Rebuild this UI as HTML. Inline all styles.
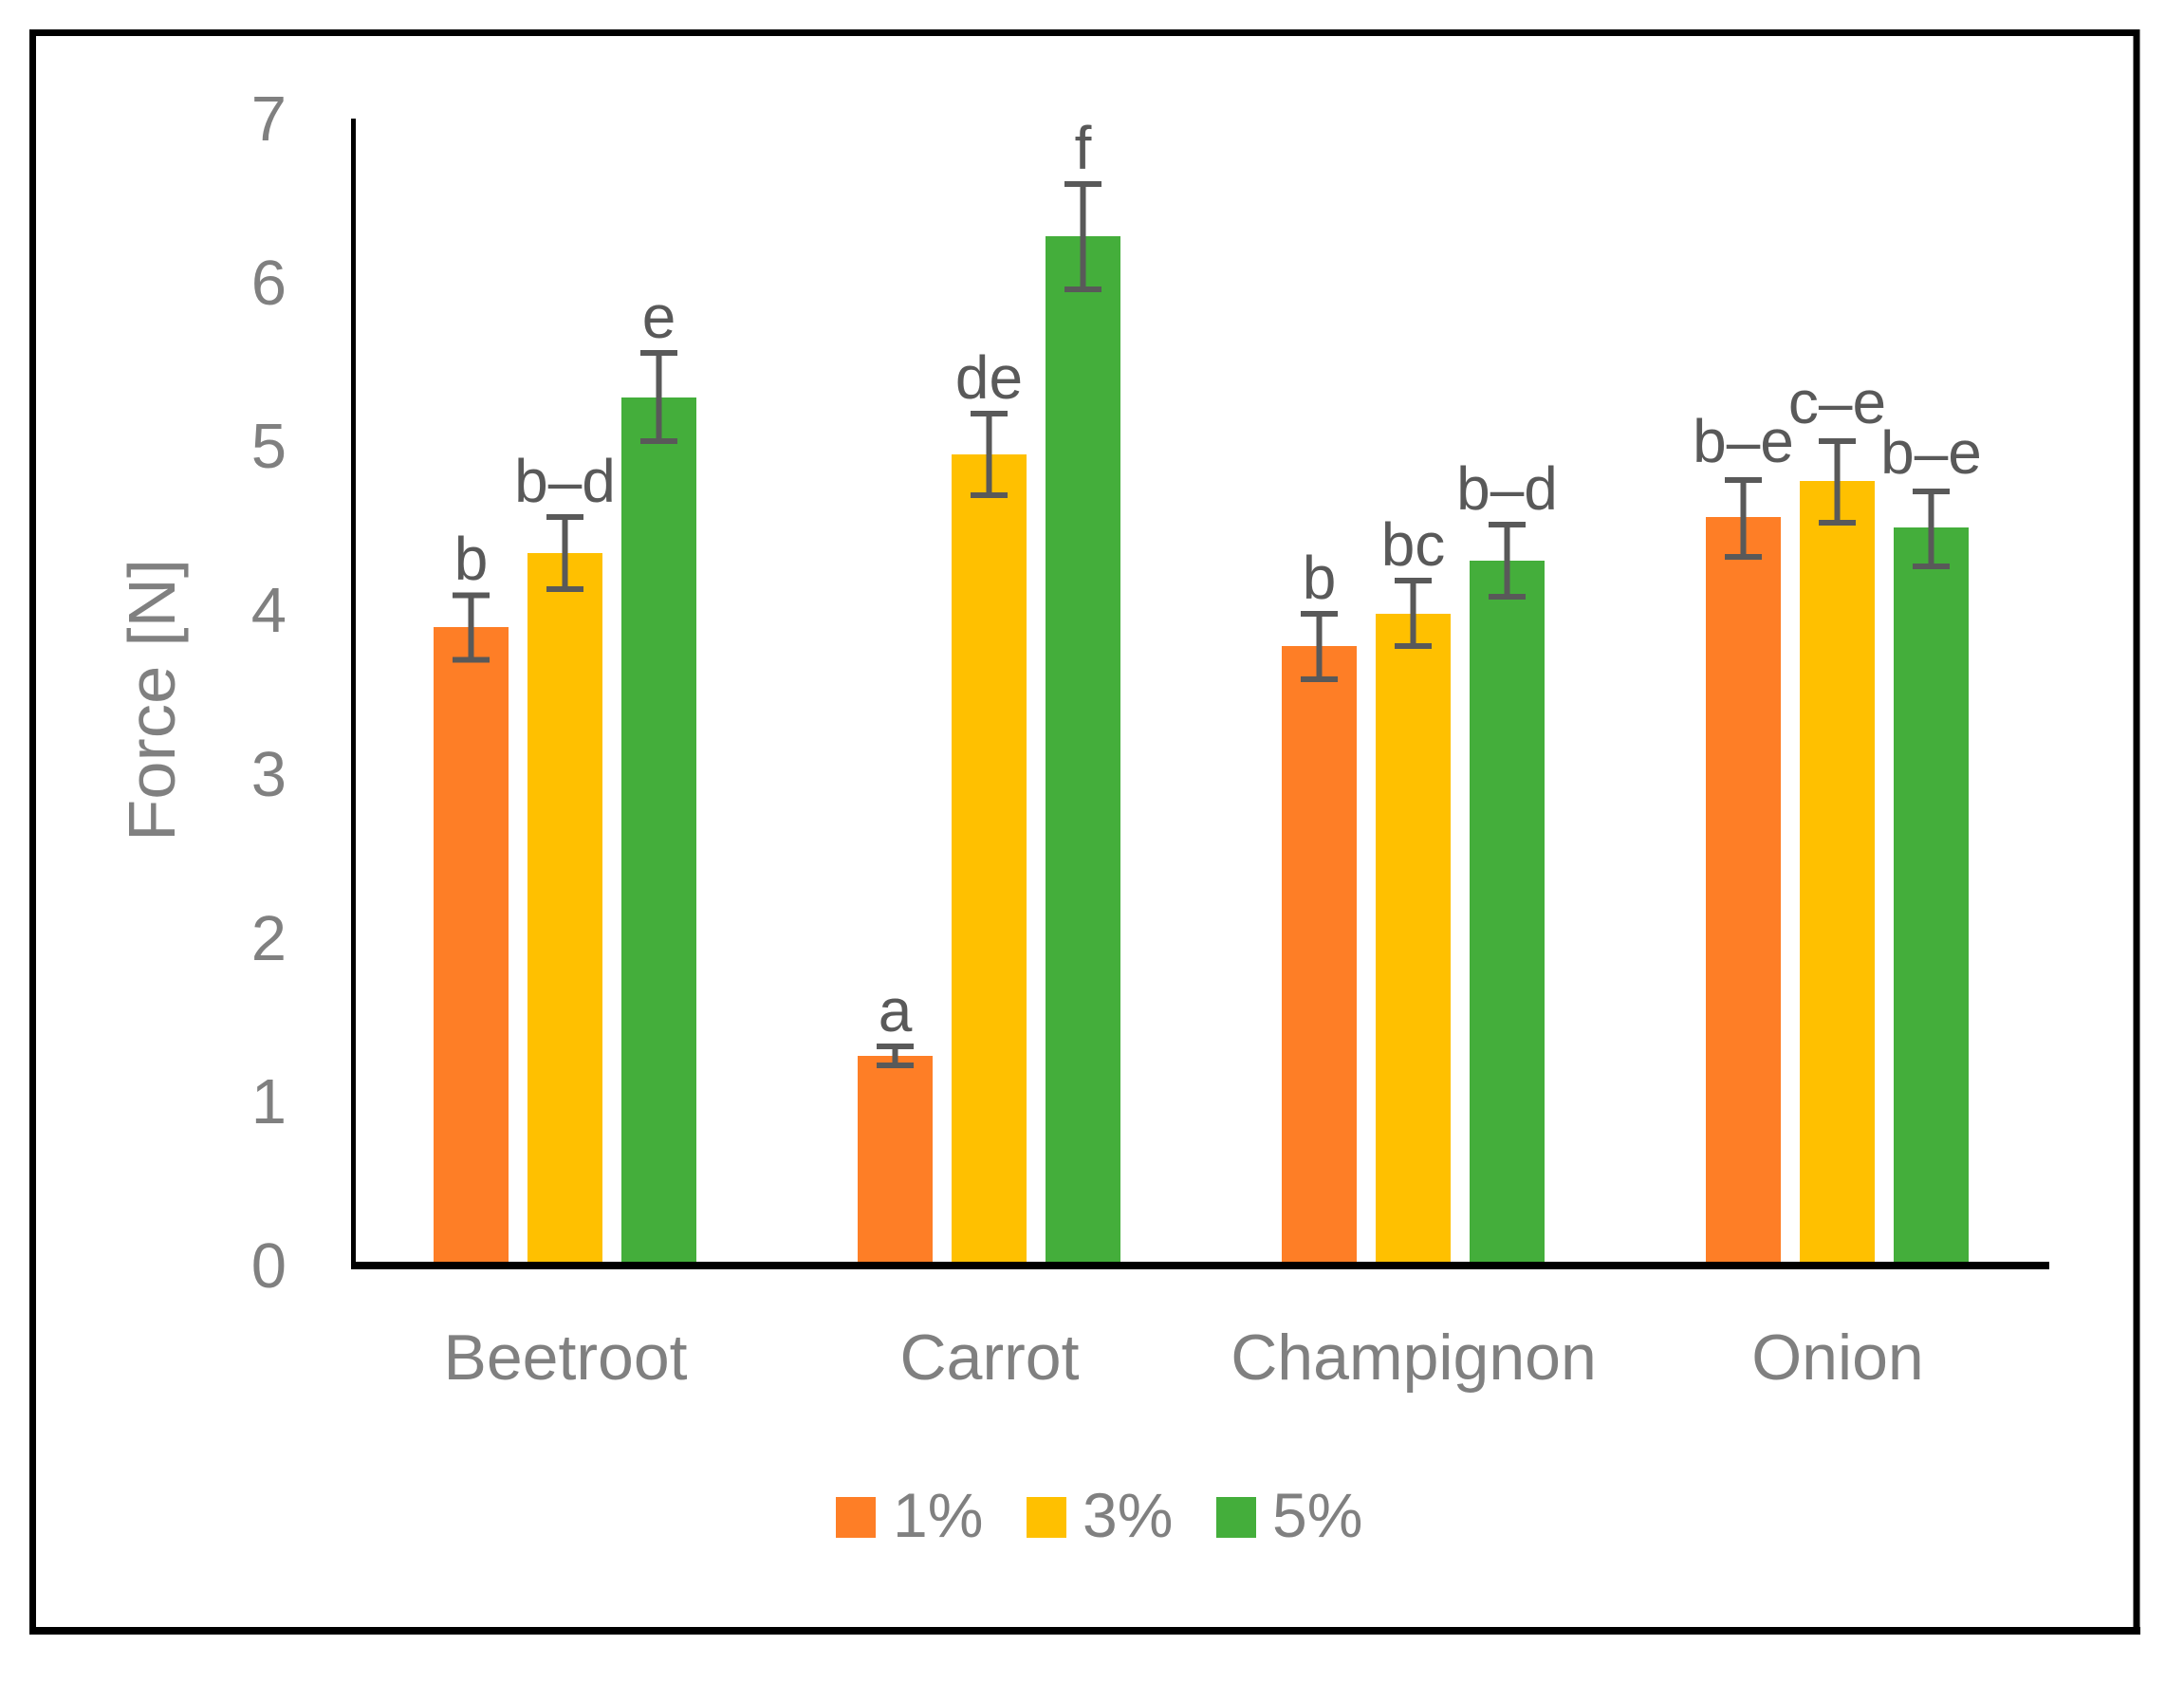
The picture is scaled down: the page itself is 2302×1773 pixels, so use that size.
<!DOCTYPE html>
<html><head><meta charset="utf-8"><style>html,body{margin:0;padding:0;background:#fff}svg{display:block}</style></head>
<body>
<svg width="2302" height="1773" viewBox="0 0 2302 1773" xmlns="http://www.w3.org/2000/svg" font-family="'Liberation Sans', sans-serif">
<rect x="0" y="0" width="2302" height="1773" fill="#fff"/>
<rect x="34.5" y="34.5" width="2217.5" height="1684" fill="none" stroke="#000" stroke-width="7"/>
<line x1="31" y1="1719" x2="2256" y2="1719" stroke="#000" stroke-width="8"/>
<g fill="#808080" font-size="67" text-anchor="end">
<text x="302" y="1357">0</text><text x="302" y="1184">1</text><text x="302" y="1012">2</text>
<text x="302" y="839">3</text><text x="302" y="666">4</text><text x="302" y="493">5</text>
<text x="302" y="321">6</text><text x="302" y="148">7</text>
</g>
<text transform="translate(184,738) rotate(-90)" fill="#808080" font-size="70" text-anchor="middle" textLength="298" lengthAdjust="spacingAndGlyphs">Force [N]</text>
<g>
<rect x="457" y="661" width="79" height="673" fill="#fe7e26"/>
<rect x="556" y="583" width="79" height="751" fill="#ffc000"/>
<rect x="655" y="419" width="79" height="915" fill="#44ae3b"/>
<rect x="904" y="1113" width="79" height="221" fill="#fe7e26"/>
<rect x="1003" y="479" width="79" height="855" fill="#ffc000"/>
<rect x="1102" y="249" width="79" height="1085" fill="#44ae3b"/>
<rect x="1351" y="681" width="79" height="653" fill="#fe7e26"/>
<rect x="1450" y="647" width="79" height="687" fill="#ffc000"/>
<rect x="1549" y="591" width="79" height="743" fill="#44ae3b"/>
<rect x="1798" y="545" width="79" height="789" fill="#fe7e26"/>
<rect x="1897" y="507" width="79" height="827" fill="#ffc000"/>
<rect x="1996" y="556" width="79" height="778" fill="#44ae3b"/>
</g>
<line x1="372.5" y1="125" x2="372.5" y2="1338" stroke="#000" stroke-width="5"/>
<line x1="370" y1="1334" x2="2160" y2="1334" stroke="#000" stroke-width="8"/>
<g stroke="#595959" stroke-width="6" fill="none">
<path d="M496.5 627.5V695.5M477 627.5H516M477 695.5H516"/>
<path d="M595.5 545V621M576 545H615M576 621H615"/>
<path d="M694.5 372V465M675 372H714M675 465H714"/>
<path d="M943.5 1103V1123M924 1103H963M924 1123H963"/>
<path d="M1042.5 436V522M1023 436H1062M1023 522H1062"/>
<path d="M1141.5 194V305M1122 194H1161M1122 305H1161"/>
<path d="M1390.5 647V716M1371 647H1410M1371 716H1410"/>
<path d="M1489.5 612V681M1470 612H1509M1470 681H1509"/>
<path d="M1588.5 553V629M1569 553H1608M1569 629H1608"/>
<path d="M1837.5 506V587M1818 506H1857M1818 587H1857"/>
<path d="M1936.5 465V551M1917 465H1956M1917 551H1956"/>
<path d="M2035.5 518V597M2016 518H2055M2016 597H2055"/>
</g>
<g fill="#595959" font-size="64" text-anchor="middle">
<text x="496.5" y="611">b</text>
<text x="595.5" y="529">b–d</text>
<text x="694.5" y="356">e</text>
<text x="943.5" y="1087">a</text>
<text x="1042.5" y="420">de</text>
<text x="1141.5" y="178">f</text>
<text x="1390.5" y="631">b</text>
<text x="1489.5" y="596">bc</text>
<text x="1588.5" y="537">b–d</text>
<text x="1837.5" y="487">b–e</text>
<text x="1936.5" y="446">c–e</text>
<text x="2035.5" y="499">b–e</text>
</g>
<g fill="#808080" font-size="68" text-anchor="middle">
<text x="596" y="1454">Beetroot</text>
<text x="1043" y="1454">Carrot</text>
<text x="1490" y="1454">Champignon</text>
<text x="1937" y="1454">Onion</text>
</g>
<rect x="881" y="1578" width="42" height="43" fill="#fe7e26"/>
<rect x="1082" y="1578" width="42" height="43" fill="#ffc000"/>
<rect x="1282" y="1578" width="42" height="43" fill="#44ae3b"/>
<g fill="#808080" font-size="66">
<text x="941" y="1620">1%</text>
<text x="1141" y="1620">3%</text>
<text x="1341" y="1620">5%</text>
</g>
</svg>
</body></html>
